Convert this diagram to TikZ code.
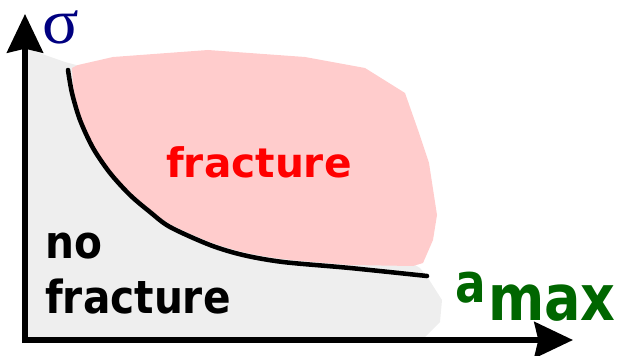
\documentclass[tikz,border=0pt]{standalone}
\usepackage{fontspec}
\usepackage{graphicx}
\usepackage{tikz}
\usetikzlibrary{arrows.meta, positioning}
\newfontfamily\labelsans{DejaVu Sans}
\newfontfamily\greekserif{Liberation Serif}
\definecolor{regionpink}{RGB}{255,204,204}
\definecolor{regiongray}{RGB}{238,238,238}
\definecolor{axisgreen}{RGB}{0,102,0}
\definecolor{axisnavy}{RGB}{0,0,128}

\begin{document}
\begin{tikzpicture}[x=0.75pt, y=-0.75pt,
  axis/.style={line width=4.3pt, -{Stealth[length=29pt, width=27pt, inset=3pt]}},
  regionlabel/.style={font=\labelsans\bfseries\fontsize{30.5}{41}\selectfont,
    inner sep=0pt, anchor=base west},
  axislabel/.style={text=axisgreen, inner sep=0pt, anchor=base west}]
  \useasboundingbox (0,0) rectangle (621,356);
  % regions
  \fill[regiongray] (25,48) -- (65,62) -- (80,66) -- (420,268) -- (428,278)
    -- (442,300) -- (440,322) -- (425,337) -- (25,337) -- cycle;
  \fill[regionpink] (78,65) -- (113,57) -- (208,50) -- (305,57) -- (365,68)
    -- (405,93) -- (418,130) -- (429,163) -- (437,215) -- (433,240)
    -- (423,263) -- (413,266)
    -- plot[smooth] coordinates {(350,265) (283,259) (243,252) (210,242)
      (170,224) (150,209) (130,192) (110,170) (93,145) (80,117) (74,92) (72,68)}
    -- cycle;
  % boundary curve
  \draw[line width=3.4pt, line cap=round] plot[smooth] coordinates {(68,70)
    (72,93) (80,120) (93,148) (110,173) (130,195) (150,212) (170,227)
    (210,245) (243,255) (283,262) (350,268) (427,276)};
  % axes
  \coordinate (origin) at (25,343);
  \coordinate (xstart) at (22,340);
  \coordinate (ytip) at (25,14);
  \coordinate (xtip) at (573,340);
  \draw[axis] (origin) -- (ytip);
  \draw[axis] (xstart) -- (xtip);
  % labels
  \node[text=axisnavy, font=\greekserif\fontsize{48}{48}\selectfont,
    inner sep=0pt, anchor=base west] (sigma) at (42,44) {\scalebox{1.06}[1]{σ}};
  \node[axislabel, font=\labelsans\bfseries\fontsize{34}{34}\selectfont]
    (a) at (455,302) {\scalebox{1}[1.2]{a}};
  \node[axislabel, font=\labelsans\bfseries\fontsize{40.5}{40.5}\selectfont]
    (max) at (488,320) {\scalebox{1}[1.18]{max}};
  \node[regionlabel, text=red] (frac) at (166,178) {fracture};
  \node[regionlabel] (no) at (45,258) {\scalebox{1}[1.12]{no}};
  \node[regionlabel] (nofrac) at (45,313) {\scalebox{1}[1.12]{fracture}};
\end{tikzpicture}
\end{document}
